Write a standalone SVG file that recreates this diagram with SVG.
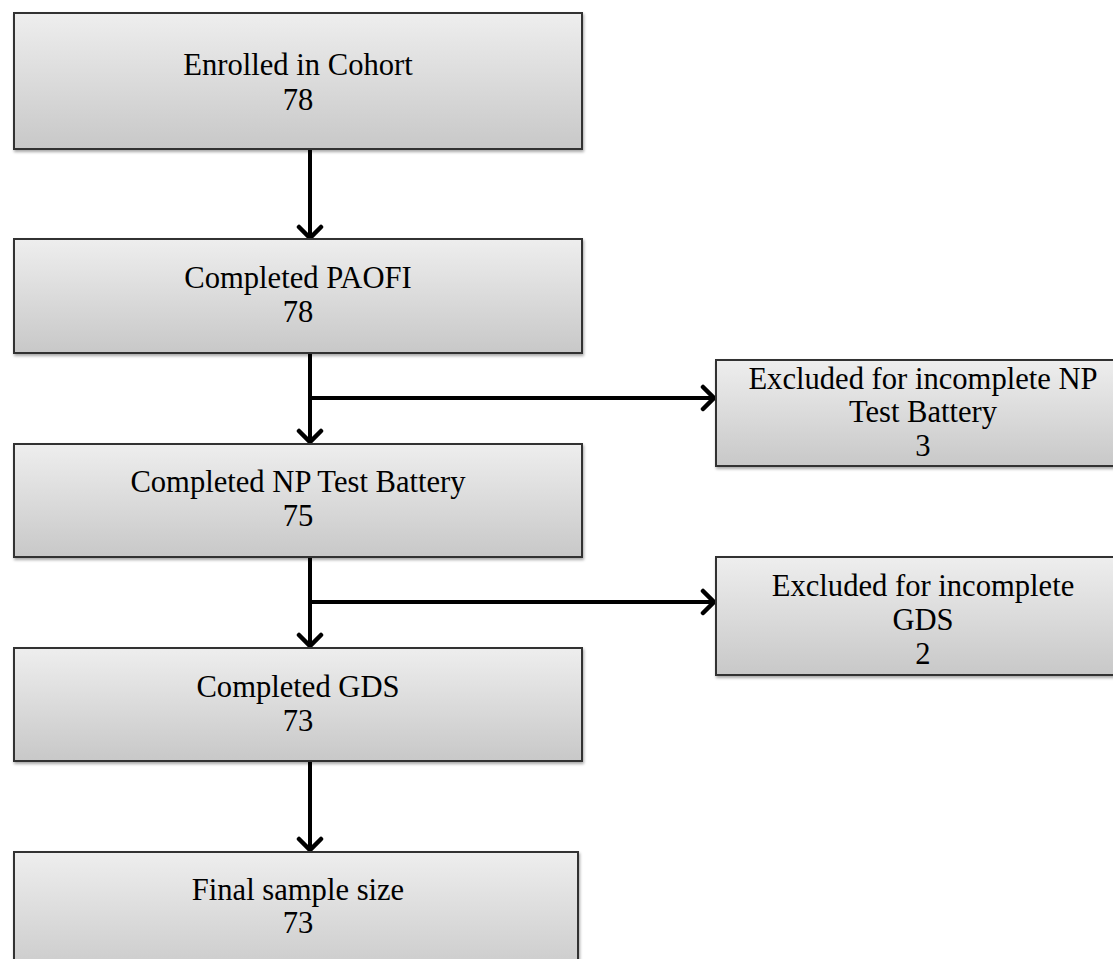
<svg xmlns="http://www.w3.org/2000/svg" width="1113" height="959" viewBox="0 0 1113 959">
<style>
.box{fill:url(#g);stroke:#333;stroke-width:2;filter:url(#sh)}
.t{font-family:"Liberation Serif","Times New Roman",serif;font-size:30.6px;fill:#000;text-anchor:middle}
.c{stroke:#000;stroke-width:4;fill:none;marker-end:url(#ah)}
</style>
<defs>
<linearGradient id="g" x1="0" y1="0" x2="0" y2="1">
<stop offset="0" stop-color="#eeeeee"/>
<stop offset="1" stop-color="#c8c8c8"/>
</linearGradient>
<filter id="sh" x="-5%" y="-5%" width="110%" height="120%">
<feGaussianBlur in="SourceAlpha" stdDeviation="1.5"/>
<feOffset dx="1" dy="2" result="b"/>
<feComponentTransfer><feFuncA type="linear" slope="0.35"/></feComponentTransfer>
<feMerge><feMergeNode/><feMergeNode in="SourceGraphic"/></feMerge>
</filter>
<marker id="ah" markerUnits="userSpaceOnUse" markerWidth="28" markerHeight="28" viewBox="0 0 28 28" refX="15" refY="14" orient="auto">
<path d="M3,3 L14,14 L3,25" stroke="#000" stroke-width="4.5" fill="none" stroke-linecap="round"/>
</marker>
</defs>
<g id="connectors">
<line class="c" x1="310" y1="150" x2="310" y2="239"/>
<line class="c" x1="310" y1="354" x2="310" y2="443"/>
<line class="c" x1="310" y1="398" x2="715" y2="398"/>
<line class="c" x1="310" y1="558" x2="310" y2="647"/>
<line class="c" x1="310" y1="602" x2="715" y2="602"/>
<line class="c" x1="310" y1="762" x2="310" y2="851"/>
</g>
<g id="n1"><rect class="box" x="14" y="13" width="568" height="136"/>
<text class="t" x="298" y="75">Enrolled in Cohort</text><text class="t" x="298" y="110">78</text></g>
<g id="n2"><rect class="box" x="14" y="239" width="568" height="114"/>
<text class="t" x="298" y="288">Completed PAOFI</text><text class="t" x="298" y="322">78</text></g>
<g id="n3"><rect class="box" x="14" y="444" width="568" height="113"/>
<text class="t" x="298" y="492">Completed NP Test Battery</text><text class="t" x="298" y="526">75</text></g>
<g id="n4"><rect class="box" x="14" y="648" width="568" height="113"/>
<text class="t" x="298" y="697">Completed GDS</text><text class="t" x="298" y="731">73</text></g>
<g id="n5"><rect class="box" x="14" y="852" width="564" height="130"/>
<text class="t" x="298" y="900">Final sample size</text><text class="t" x="298" y="933">73</text></g>
<g id="x1"><rect class="box" x="716" y="360" width="414" height="106"/>
<text class="t" x="923" y="389">Excluded for incomplete NP</text><text class="t" x="923" y="422">Test Battery</text><text class="t" x="923" y="456">3</text></g>
<g id="x2"><rect class="box" x="716" y="557" width="414" height="118"/>
<text class="t" x="923" y="596">Excluded for incomplete</text><text class="t" x="923" y="630">GDS</text><text class="t" x="923" y="664">2</text></g>
</svg>
